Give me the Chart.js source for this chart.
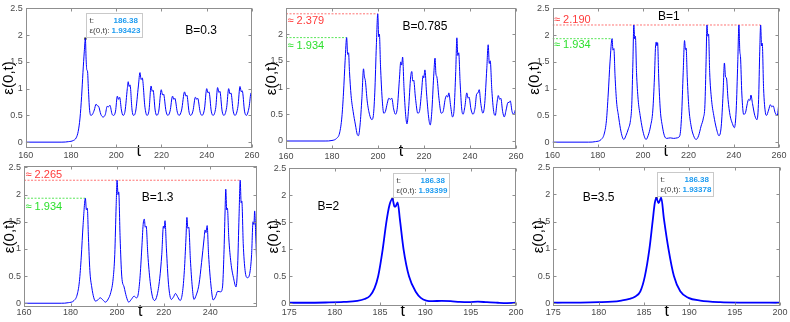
<!DOCTYPE html>
<html>
<head>
<meta charset="utf-8">
<script src="https://cdn.jsdelivr.net/npm/chart.js@4.4.1/dist/chart.umd.min.js"></script>
<style>
  body { margin: 0; width: 790px; height: 322px; background: #fff; position: relative; overflow: hidden; }
  canvas { position: absolute; }
</style>
</head>
<body>
<canvas id="c1"></canvas>
<canvas id="c2"></canvas>
<canvas id="c3"></canvas>
<canvas id="c4"></canvas>
<canvas id="c5"></canvas>
<canvas id="c6"></canvas>
<script>
// tick labels
const ticksLong = [160, 180, 200, 220, 240, 260];
const ticksLongB13 = [160, 180, 200, 220, 240];
const ticksShort = [175, 180, 185, 190, 195, 200];
const ticksEps = [0, 0.5, 1, 1.5, 2, 2.5];
const ticksEpsB0785 = [0, 0.5, 1, 1.5, 2];

// eps(0,t), [t, eps]
const seriesB03 = [[160,0],[176,0],[179,0.01],[181,0.03],[182.3,0.08],[183.2,0.2],[184,0.45],[184.7,0.85],[185.3,1.3],[185.9,1.7],[186.38,1.934],[186.7,1.55],[187.0,1.35],[187.3,1.33],[187.7,1.0],[188.2,0.62],[188.8,0.5],[189.5,0.52],[190.3,0.6],[191.1,0.71],[191.7,0.68],[192.2,0.67],[193.2,0.52],[194.2,0.47],[195.2,0.52],[196.0,0.67],[196.6,0.66],[197.2,0.69],[198.2,0.52],[198.9,0.5],[199.7,0.58],[200.5,0.86],[201.0,0.8],[201.5,0.84],[202.3,0.6],[203.0,0.5],[203.9,0.58],[204.9,1.0],[205.3,1.13],[205.7,1.04],[206.1,1.07],[207.0,0.6],[207.6,0.5],[208.6,0.58],[209.8,1.05],[210.5,1.3],[211.0,1.17],[211.5,1.2],[212.7,0.65],[213.6,0.5],[214.5,0.6],[215.4,1.05],[215.9,0.95],[216.3,0.97],[217.2,0.6],[217.9,0.5],[218.8,0.58],[219.9,0.98],[220.5,0.88],[220.9,0.9],[222.0,0.58],[222.8,0.5],[223.8,0.58],[224.9,0.86],[225.5,0.8],[225.9,0.82],[227.0,0.56],[227.8,0.5],[228.9,0.6],[230.2,0.94],[230.8,0.86],[231.2,0.88],[232.2,0.56],[232.9,0.5],[233.9,0.58],[235.0,0.84],[235.6,0.8],[236.0,0.82],[237.1,0.56],[237.9,0.5],[239.0,0.62],[240.0,1.0],[240.6,0.92],[241.0,0.94],[242.0,0.58],[242.8,0.5],[244.0,0.65],[244.8,1.02],[245.4,0.93],[245.8,0.95],[246.8,0.58],[247.6,0.5],[248.8,0.65],[249.7,1.0],[250.3,0.9],[250.7,0.92],[251.7,0.58],[252.5,0.5],[253.8,0.67],[254.7,1.04],[255.3,0.94],[255.7,0.96],[256.7,0.58],[257.5,0.5],[258.7,0.65],[259.6,0.92],[260,0.85]];

const seriesB0785 = [[160,0],[177,0],[180,0.01],[182,0.05],[183.3,0.15],[184.3,0.45],[185.0,0.9],[185.7,1.5],[186.38,1.934],[186.8,1.62],[187.2,1.65],[187.6,1.3],[188.3,0.85],[189.2,0.55],[190.2,0.3],[191.0,0.12],[191.5,0.1],[192.2,0.3],[193.0,0.8],[193.7,1.35],[194.1,1.2],[194.5,1.13],[195.3,0.75],[196.3,0.5],[197.3,0.4],[197.9,0.45],[198.6,0.9],[199.3,1.8],[199.9,2.379],[200.3,1.95],[200.6,2.0],[201.1,1.4],[201.8,0.8],[202.5,0.52],[203.2,0.55],[204.0,0.7],[204.7,0.8],[205.4,0.78],[206.0,0.8],[206.8,0.6],[207.6,0.5],[208.4,0.62],[209.3,1.15],[209.9,1.48],[210.3,1.42],[210.7,1.57],[211.3,1.0],[212.0,0.5],[212.6,0.32],[213.3,0.6],[214.2,1.2],[214.7,1.3],[215.1,1.12],[215.5,1.14],[216.3,0.8],[217.3,0.52],[218.0,0.55],[218.9,0.9],[219.6,1.22],[219.9,1.18],[220.4,1.33],[221.1,0.9],[222.0,0.45],[222.7,0.3],[223.4,0.55],[224.2,1.2],[224.8,1.55],[225.2,1.25],[225.6,1.2],[226.5,0.8],[227.5,0.52],[228.3,0.55],[229.2,0.78],[229.8,0.85],[230.3,0.82],[230.8,0.9],[231.6,0.65],[232.4,0.45],[233.1,0.6],[233.8,1.3],[234.3,1.93],[234.7,1.6],[235.1,1.65],[235.7,1.1],[236.4,0.6],[237.0,0.5],[237.8,0.65],[238.6,0.9],[239.2,0.8],[239.6,0.82],[240.4,0.6],[241.3,0.5],[242.2,0.62],[242.9,0.88],[243.5,0.9],[244.0,0.96],[244.7,0.7],[245.6,0.52],[246.4,0.7],[247.3,1.35],[247.9,1.8],[248.4,1.45],[248.8,1.5],[249.5,0.95],[250.3,0.55],[251.0,0.48],[251.7,0.7],[252.3,0.85],[252.9,0.78],[253.4,0.8],[254.2,0.55],[254.9,0.45],[255.8,0.6],[256.5,0.72],[257.0,0.72],[257.5,0.75],[258.3,0.55],[258.9,0.5],[259.5,0.55],[260,0.62]];

const seriesB1 = [[160,0],[176,0],[179,0.01],[181.5,0.05],[182.8,0.15],[183.8,0.4],[184.6,0.9],[185.4,1.5],[186.3,1.934],[186.7,1.72],[187.1,1.75],[187.6,1.25],[188.3,0.75],[189.1,0.5],[190.0,0.25],[190.8,0.1],[191.5,0.05],[192.4,0.12],[193.5,0.25],[194.4,0.4],[195.0,0.7],[195.5,1.5],[195.9,2.19],[196.3,1.93],[196.6,1.98],[197.1,1.3],[197.8,0.8],[198.7,0.5],[199.7,0.25],[200.6,0.1],[201.3,0.05],[202.2,0.12],[203.3,0.3],[204.3,0.6],[205.0,1.2],[205.5,1.8],[205.8,1.87],[206.1,1.8],[206.4,1.86],[206.9,1.2],[207.6,0.6],[208.5,0.3],[209.4,0.12],[210.4,0.07],[212.0,0.08],[213.5,0.07],[215.0,0.08],[216.2,0.12],[217.0,0.5],[217.7,1.3],[218.3,1.9],[218.7,1.73],[219.0,1.76],[219.5,1.2],[220.2,0.65],[221.2,0.3],[222.3,0.12],[223.4,0.05],[224.5,0.12],[225.6,0.3],[226.6,0.45],[227.3,0.7],[227.8,1.5],[228.2,2.19],[228.6,1.98],[228.9,2.02],[229.4,1.3],[230.2,0.8],[231.2,0.5],[232.4,0.25],[233.5,0.12],[234.5,0.3],[235.3,0.9],[235.9,1.48],[236.4,1.22],[236.8,1.2],[237.5,0.8],[238.4,0.5],[239.4,0.35],[240.3,0.27],[241.1,0.6],[241.8,1.5],[242.3,2.19],[242.7,1.7],[243.0,1.6],[243.6,0.9],[244.4,0.52],[245.2,0.55],[246.0,0.72],[246.6,0.8],[247.2,0.78],[247.6,0.88],[248.3,0.72],[249.3,0.5],[250.3,0.42],[251.0,0.8],[251.5,1.7],[251.9,2.19],[252.3,1.8],[252.6,1.85],[253.2,1.0],[254.0,0.55],[254.5,0.5],[255.4,0.6],[256.2,0.7],[256.8,0.66],[257.4,0.68],[258.3,0.55],[259.2,0.5],[260,0.75]];

const seriesB13 = [[160,0],[176,0],[179,0.01],[181.5,0.05],[182.8,0.15],[183.8,0.4],[184.6,0.85],[185.4,1.45],[186.38,1.934],[186.8,1.72],[187.2,1.75],[187.7,1.2],[188.3,0.6],[189.1,0.3],[190.0,0.1],[190.7,0.04],[191.7,0.06],[192.8,0.1],[193.9,0.06],[195.0,0.02],[196.2,0.08],[197.3,0.2],[198.3,0.45],[199.0,0.9],[199.6,1.8],[200.0,2.265],[200.4,2.0],[200.7,2.05],[201.3,1.2],[202.0,0.5],[203.0,0.3],[204.0,0.12],[205.0,0.02],[206.1,0.07],[207.3,0.13],[208.3,0.1],[209.0,0.15],[209.8,0.45],[210.6,1.0],[211.2,1.45],[211.7,1.55],[212.1,1.4],[212.5,1.42],[213.2,0.9],[214.2,0.4],[215.2,0.12],[216.1,0.05],[217.2,0.15],[218.3,0.45],[219.2,0.9],[219.9,1.42],[220.2,1.38],[220.6,1.52],[221.2,1.0],[222.1,0.35],[223.3,0.07],[224.3,0.12],[225.1,0.18],[226.0,0.12],[227.1,0.05],[228.1,0.2],[228.9,0.6],[229.6,1.2],[230.0,1.58],[230.4,1.38],[230.8,1.4],[231.5,0.8],[232.3,0.3],[233.0,0.07],[234.0,0.15],[235.2,0.35],[236.3,0.75],[237.4,1.2],[237.8,1.35],[238.2,1.3],[238.7,1.43],[239.3,0.9],[240.4,0.3],[241.3,0.06],[242.3,0.12],[243.2,0.22],[244.5,0.21],[245.3,0.3],[245.9,0.9],[246.4,1.7],[246.7,2.1],[247.1,1.72],[247.4,1.75],[248.0,1.2],[248.9,0.75],[250.1,0.45],[251.1,0.3],[251.8,0.7],[252.4,1.6],[252.9,2.265],[253.3,1.85],[253.6,1.88],[254.2,1.1],[255.0,0.6],[256.0,0.47],[257.0,0.55],[257.8,0.9],[258.4,1.5],[258.8,1.45],[259.1,1.7],[259.6,1.2],[260,0.7]];

const seriesB2 = [[175,0.01],[177,0.01],[179,0.015],[181,0.025],[182.5,0.045],[183.3,0.08],[183.9,0.14],[184.4,0.28],[184.8,0.5],[185.3,1.0],[185.7,1.5],[186.05,1.82],[186.38,1.934],[186.6,1.79],[186.75,1.8],[186.95,1.87],[187.2,1.55],[187.6,1.0],[188.2,0.5],[189.0,0.2],[189.5,0.1],[190.1,0.05],[190.8,0.04],[191.8,0.045],[192.8,0.04],[193.8,0.025],[194.8,0.02],[195.8,0.03],[196.8,0.02],[198,0.01],[199,0.005],[200,0.01]];

const seriesB35 = [[175,0.01],[178,0.013],[180,0.02],[181.5,0.03],[182.5,0.05],[183.4,0.08],[184,0.12],[184.6,0.22],[185.1,0.5],[185.6,1.0],[185.95,1.5],[186.2,1.85],[186.38,1.934],[186.6,1.84],[186.9,1.94],[187.2,1.55],[187.7,1.0],[188.3,0.5],[189.0,0.22],[189.9,0.1],[191.2,0.05],[193.4,0.02],[196,0.012],[200,0.01]];

// dotted reference levels: [tStart, tEnd, level]
const maxB0785 = [160, 199.9, 2.379];
const maxB1 = [160, 251.9, 2.19];
const maxB13 = [160, 252.9, 2.265];
const firstPeak = [160, 186.38, 1.934];

// data tips: [t, eps, shown t, shown eps]
const tipB03 = [186.38, 1.934, '186.38', '1.93423'];
const tipB2 = [186.38, 1.934, '186.38', '1.93399'];
const tipB35 = [186.38, 1.934, '186.38', '1.93378'];

const FONT = '"Liberation Sans", Arial, Helvetica, sans-serif';
Chart.defaults.font.family = FONT;

const panels = [
  { id: 'c1', box: [0, 0, 262, 162], area: [25.7, 5, 252, 147.5], x: [160, 260], y: [-0.1, 2.5],
    xTicks: ticksLong, yTicks: ticksEps, series: seriesB03, lw: 1,
    label: 'B=0.3', labelAt: [237.5, 2.08], tip: tipB03, yTitlePad: 0 },
  { id: 'c2', box: [262, 0, 264, 162], area: [286, 4.5, 516, 148.5], x: [160, 260], y: [-0.14, 2.48],
    xTicks: ticksLong, yTicks: ticksEpsB0785, series: seriesB0785, lw: 1,
    label: 'B=0.785', labelAt: [220.4, 2.14], yTitlePad: 0.6,
    refs: [{ r: maxB0785, color: 'rgba(255,90,90,0.85)', text: '#ff3b3b', dy: 7 },
           { r: firstPeak, color: 'rgba(60,225,60,0.85)', text: '#2ee02e', dy: 8 }] },
  { id: 'c3', box: [526, 0, 264, 162], area: [552.5, 4.5, 779, 147.5], x: [160, 260], y: [-0.1, 2.5],
    xTicks: ticksLong, yTicks: ticksEps, series: seriesB1, lw: 1,
    label: 'B=1', labelAt: [211.4, 2.35], yTitlePad: 0.3,
    refs: [{ r: maxB1, color: 'rgba(255,90,90,0.85)', text: '#ff3b3b', dy: -5.5 },
           { r: firstPeak, color: 'rgba(60,225,60,0.85)', text: '#2ee02e', dy: 6 }] },
  { id: 'c4', box: [0, 158, 262, 164], area: [24, 160.5, 256.5, 306.5], x: [160, 259.9], y: [-0.06, 2.52],
    xTicks: ticksLongB13, yTicks: ticksEps, series: seriesB13, lw: 1,
    label: 'B=1.3', labelAt: [217.4, 1.94], yTitlePad: 0.6,
    refs: [{ r: maxB13, color: 'rgba(255,90,90,0.85)', text: '#ff3b3b', dy: -5 },
           { r: firstPeak, color: 'rgba(60,225,60,0.85)', text: '#2ee02e', dy: 8.5 }] },
  { id: 'c5', box: [262, 158, 264, 164], area: [289.3, 167.5, 516, 306], x: [175, 200], y: [-0.05, 2.515],
    xTicks: ticksShort, yTicks: ticksEps, series: seriesB2, lw: 1.8,
    label: 'B=2', labelAt: [179.3, 1.78], tip: tipB2, yTitlePad: 2.6 },
  { id: 'c6', box: [526, 158, 264, 164], area: [553.3, 167.3, 780, 306], x: [175, 200], y: [-0.05, 2.5],
    xTicks: ticksShort, yTicks: ticksEps, series: seriesB35, lw: 1.8,
    label: 'B=3.5', labelAt: [180.0, 1.95], tip: tipB35, yTitlePad: 3.6 }
];

const framePlugin = {
  id: 'frame',
  afterDatasetsDraw(chart) {
    const { ctx, chartArea: a, scales: { x, y } } = chart;
    const L = Math.round(a.left) + 0.5, R = Math.round(a.right) - 0.5;
    const T = Math.round(a.top) + 0.5, B = Math.round(a.bottom) - 0.5;
    ctx.save();
    ctx.strokeStyle = '#8f8f8f';
    ctx.lineWidth = 1;
    ctx.strokeRect(L, T, R - L, B - T);
    ctx.beginPath();
    x.ticks.forEach(t => {
      const px = Math.round(x.getPixelForValue(t.value)) + 0.5;
      ctx.moveTo(px, B); ctx.lineTo(px, B - 3);
      ctx.moveTo(px, T); ctx.lineTo(px, T + 3);
    });
    y.ticks.forEach(t => {
      const py = Math.round(y.getPixelForValue(t.value)) + 0.5;
      ctx.moveTo(L, py); ctx.lineTo(L + 3, py);
      ctx.moveTo(R, py); ctx.lineTo(R - 3, py);
    });
    ctx.stroke();
    ctx.restore();
  }
};

const notesPlugin = {
  id: 'notes',
  afterDraw(chart, args, opts) {
    const p = opts.panel;
    const { ctx, chartArea: a, scales: { x, y } } = chart;
    ctx.save();
    ctx.textBaseline = 'middle';
    // panel label
    ctx.fillStyle = '#000';
    ctx.font = '12px ' + FONT;
    ctx.textAlign = 'center';
    ctx.fillText(p.label, x.getPixelForValue(p.labelAt[0]), y.getPixelForValue(p.labelAt[1]));
    // level labels
    (p.refs || []).forEach(ref => {
      ctx.fillStyle = ref.text;
      ctx.font = '11px ' + FONT;
      ctx.textAlign = 'left';
      ctx.fillText('\u2248 ' + ref.r[2].toFixed(3), a.left + 1.5, y.getPixelForValue(ref.r[2]) + ref.dy);
    });
    // data tip box
    if (p.tip) {
      const px = x.getPixelForValue(p.tip[0]), py = y.getPixelForValue(p.tip[1]);
      const bx = Math.round(px) + 1.5, bw = 56, bh = 24, by = Math.round(py) - 1.5 - bh;
      ctx.fillStyle = '#fff';
      ctx.fillRect(bx, by, bw, bh);
      ctx.strokeStyle = '#c9c9c9';
      ctx.lineWidth = 1;
      ctx.strokeRect(bx, by, bw, bh);
      ctx.textAlign = 'left';
      ctx.font = '8px ' + FONT;
      ctx.fillStyle = '#3a3a3a';
      ctx.fillText('t:', bx + 3, by + 7);
      ctx.fillText('\u03b5(0,t):', bx + 3, by + 17);
      ctx.font = 'bold 8px ' + FONT;
      ctx.fillStyle = '#1d9bf0';
      ctx.fillText(p.tip[2], bx + 27, by + 7);
      ctx.fillText(p.tip[3], bx + 25, by + 17);
    }
    ctx.restore();
  }
};

panels.forEach(p => {
  const cv = document.getElementById(p.id);
  const [bx, by, bw, bh] = p.box;
  const [l, t, r, b] = p.area;
  cv.width = bw; cv.height = bh;
  cv.style.left = bx + 'px'; cv.style.top = by + 'px';
  cv.style.width = bw + 'px'; cv.style.height = bh + 'px';

  const datasets = [{
    data: p.series.map(([tt, e]) => ({ x: tt, y: e })),
    borderColor: '#0000ff',
    borderWidth: p.lw,
    pointRadius: 0,
    cubicInterpolationMode: 'monotone',
    fill: false
  }];
  (p.refs || []).forEach(ref => {
    datasets.push({
      data: [{ x: ref.r[0], y: ref.r[2] }, { x: ref.r[1], y: ref.r[2] }],
      borderColor: ref.color,
      borderWidth: 1,
      borderDash: [2, 1.5],
      pointRadius: 0,
      fill: false
    });
  });
  if (p.tip) {
    datasets.push({
      data: [{ x: p.tip[0], y: p.tip[1] }],
      showLine: false,
      pointStyle: 'rect',
      pointRadius: 1.6,
      pointBorderWidth: 0,
      pointBackgroundColor: '#2a2a2a'
    });
  }

  const xh = bh - (b - by);
  new Chart(cv, {
    type: 'line',
    data: { datasets },
    options: {
      responsive: false,
      animation: false,
      layout: { padding: { left: 0, top: t - by, right: bx + bw - r, bottom: 0 } },
      plugins: { legend: { display: false }, tooltip: { enabled: false }, notes: { panel: p } },
      scales: {
        x: {
          type: 'linear', min: p.x[0], max: p.x[1],
          afterBuildTicks: s => { s.ticks = p.xTicks.map(v => ({ value: v })); },
          afterFit: s => { s.height = xh; },
          grid: { display: false, drawTicks: false }, border: { display: false },
          ticks: { autoSkip: false, maxRotation: 0, padding: by === 0 ? 2.5 : 1, color: '#4a4a4a',
                   font: { size: 9 }, callback: v => String(v) },
          title: { display: true, text: 't', color: '#000', font: { size: 16 }, padding: { top: 0, bottom: 0.4 } }
        },
        y: {
          type: 'linear', min: p.y[0], max: p.y[1],
          afterBuildTicks: s => { s.ticks = p.yTicks.map(v => ({ value: v })); },
          afterFit: s => { s.width = l - bx; },
          grid: { display: false, drawTicks: false }, border: { display: false },
          ticks: { padding: 3, color: '#4a4a4a', font: { size: 9 }, callback: v => String(v) },
          title: { display: true, text: '\u03b5(0,t)', color: '#000', font: { size: 15 }, padding: { top: p.yTitlePad, bottom: 0 } }
        }
      }
    },
    plugins: [framePlugin, notesPlugin]
  });
});
</script>
</body>
</html>
